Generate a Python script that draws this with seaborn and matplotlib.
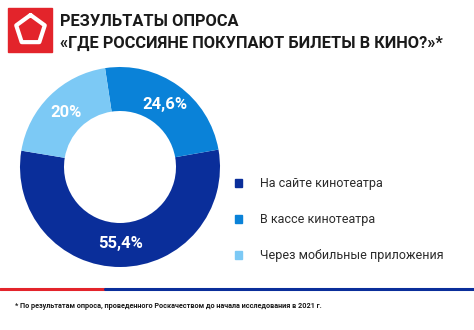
import matplotlib
matplotlib.use("Agg")
import matplotlib.pyplot as plt
import seaborn as sns
import numpy as np
from matplotlib.patches import Rectangle
from matplotlib.lines import Line2D

sns.set_theme(style="white")
plt.rcParams['font.family'] = ['Roboto', 'DejaVu Sans']

# ---- data ----
categories = ["На сайте кинотеатра", "В кассе кинотеатра", "Через мобильные приложения"]
values = [55.4, 24.6, 20.0]
value_labels = ["55,4%", "24,6%", "20%"]
title_lines = ["РЕЗУЛЬТАТЫ ОПРОСА", "«ГДЕ РОССИЯНЕ ПОКУПАЮТ БИЛЕТЫ В КИНО?»*"]
footnote = "* По результатам опроса, проведенного Роскачеством до начала исследования в 2021 г."

colors = ["#0a2e9a", "#0a82d8", "#7cc9f5"]
sns.set_palette(colors)

W, H = 474, 330
fig = plt.figure(figsize=(W / 100, H / 100), dpi=100)
fig.patch.set_facecolor("white")

def fx(x):
    return np.asarray(x) / W

def fy(y):
    return 1 - np.asarray(y) / H

# ---- donut ----
cx, cy, r = 120, 167, 100
ax = fig.add_axes([fx(cx - r), fy(cy + r), 2 * r / W, 2 * r / H])
pal = sns.color_palette(colors)
wedges, _ = ax.pie(values, colors=pal, startangle=170.6, counterclock=True,
                   radius=1.0, wedgeprops=dict(width=0.44, linewidth=0))
ax.set_xlim(-1, 1)
ax.set_ylim(-1, 1)
ax.set_aspect("equal")
ax.axis("off")
for w, lab in zip(wedges, value_labels):
    ang = np.deg2rad((w.theta1 + w.theta2) / 2)
    ax.text(0.77 * np.cos(ang), 0.77 * np.sin(ang), lab, ha="center", va="center",
            color="white", fontsize=12, fontweight="bold")

# ---- legend ----
leg_y = [183, 219, 255]
for lab, col, y in zip(categories, pal, leg_y):
    fig.patches.append(Rectangle((fx(235), fy(y + 4)), 7 / W, 8 / H, color=col,
                                 transform=fig.transFigure, figure=fig))
    fig.text(fx(260), fy(y), lab, ha="left", va="center", fontsize=9.0, color="#2b2b2b")

# ---- header ----
fig.patches.append(Rectangle((fx(8), fy(52)), 44 / W, 44 / H, color="#e3242b",
                             transform=fig.transFigure, figure=fig))
R = 15.0
angs = np.deg2rad(90 + 72 * np.arange(6))
px = 30.5 + R * np.cos(angs)
py = 30.0 - R * np.sin(angs)
fig.lines.append(Line2D(fx(px), fy(py), color="white", linewidth=3.0,
                        solid_joinstyle="round", solid_capstyle="round",
                        transform=fig.transFigure, figure=fig))

fig.text(fx(60), fy(21), title_lines[0], ha="left", va="center", fontsize=11.8,
         fontweight="bold", color="#1a1a1a")
fig.text(fx(60), fy(43), title_lines[1], ha="left", va="center", fontsize=11.8,
         fontweight="bold", color="#1a1a1a")

# ---- bottom lines ----
fig.lines.append(Line2D([0, fx(105)], [fy(289), fy(289)], color="#e3242b", linewidth=2.2,
                        transform=fig.transFigure, figure=fig))
fig.lines.append(Line2D([fx(105), 1], [fy(289), fy(289)], color="#0a2e9a", linewidth=2.2,
                        transform=fig.transFigure, figure=fig))
fig.text(fx(15), fy(306), footnote, ha="left", va="center", fontsize=5.2,
         fontweight="bold", color="#1a1a1a")

fig.savefig("out.png", dpi=100)
